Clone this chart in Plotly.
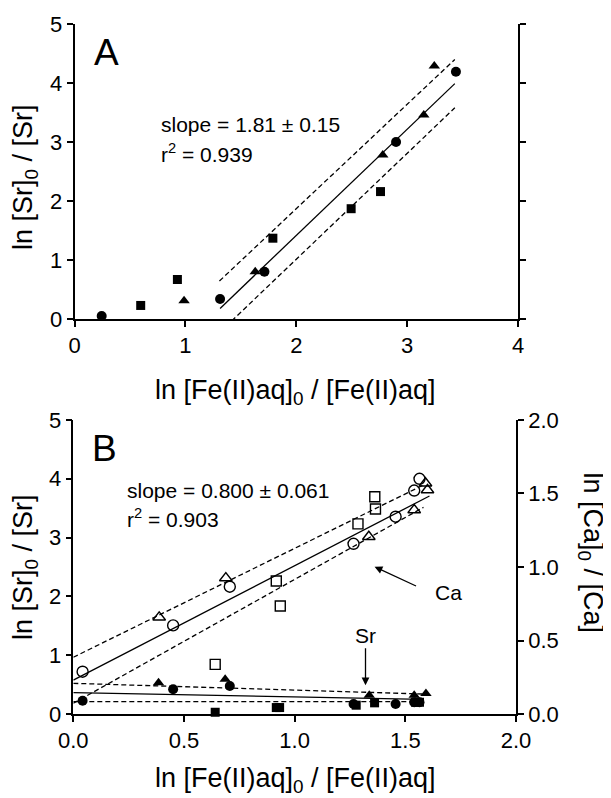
import plotly.graph_objects as go

FONT = "Liberation Sans, Arial, Helvetica, sans-serif"

# ---------------- Panel A data ----------------
a_circ_x = [0.245, 1.313, 1.713, 2.90, 3.44]
a_circ_y = [0.05, 0.34, 0.80, 3.00, 4.19]
a_sq_x = [0.597, 0.928, 1.789, 2.495, 2.76]
a_sq_y = [0.23, 0.67, 1.37, 1.87, 2.16]
a_tri_x = [0.988, 1.63, 2.78, 3.15, 3.245]
a_tri_y = [0.31, 0.80, 2.78, 3.46, 4.29]
a_fit_x = [1.313, 3.43]
a_fit_y = [0.18, 3.99]
a_up_x = [1.307, 3.43]
a_up_y = [0.644, 4.40]
a_lo_x = [1.313, 3.43]
a_lo_y = [-0.22, 3.58]

# ---------------- Panel B data ----------------
# Ca (open symbols, right axis)
b_ca_circ_x = [0.042, 0.451, 0.707, 1.266, 1.456, 1.540, 1.564]
b_ca_circ_y = [0.288, 0.603, 0.866, 1.158, 1.342, 1.520, 1.600]
b_ca_tri_x = [0.388, 0.689, 1.335, 1.540, 1.591, 1.600]
b_ca_tri_y = [0.658, 0.925, 1.206, 1.388, 1.570, 1.524]
b_ca_sq_x = [0.641, 0.917, 0.935, 1.286, 1.362, 1.365]
b_ca_sq_y = [0.338, 0.905, 0.735, 1.293, 1.478, 1.394]
b_ca_fit_x = [0.0, 1.609]
b_ca_fit_y = [0.231, 1.483]
b_ca_up_x = [0.0, 1.582]
b_ca_up_y = [0.386, 1.558]
b_ca_lo_x = [0.0, 1.582]
b_ca_lo_y = [0.073, 1.406]
# Sr (filled symbols, left axis)
b_sr_circ_x = [0.042, 0.451, 0.707, 1.266, 1.456, 1.540, 1.564]
b_sr_circ_y = [0.226, 0.42, 0.476, 0.17, 0.17, 0.20, 0.20]
b_sr_tri_x = [0.385, 0.686, 1.337, 1.540, 1.593]
b_sr_tri_y = [0.53, 0.59, 0.32, 0.32, 0.35]
b_sr_sq_x = [0.641, 0.917, 0.932, 1.278, 1.361, 1.546, 1.564]
b_sr_sq_y = [0.03, 0.11, 0.11, 0.15, 0.19, 0.20, 0.20]
b_sr_fit_x = [0.0, 1.582]
b_sr_fit_y = [0.363, 0.25]
b_sr_up_x = [0.0, 1.582]
b_sr_up_y = [0.522, 0.34]
b_sr_lo_x = [0.0, 1.582]
b_sr_lo_y = [0.21, 0.21]

fig = go.Figure()

def marker(sym, filled=True, size=10):
    if filled:
        return dict(symbol=sym, size=size, color="black", line=dict(width=0))
    return dict(symbol=sym + "-open", size=size + 1, color="black", line=dict(width=1.4, color="black"))

def pts(x, y, sym, xa, ya, filled=True, size=10):
    fig.add_trace(go.Scatter(x=x, y=y, mode="markers", marker=marker(sym, filled, size),
                             xaxis=xa, yaxis=ya, cliponaxis=False, showlegend=False))

def line(x, y, xa, ya, dash="solid"):
    fig.add_trace(go.Scatter(x=x, y=y, mode="lines", line=dict(color="black", width=1.3, dash=dash),
                             xaxis=xa, yaxis=ya, showlegend=False))

DASH = "5px,3px"

# Panel A
line(a_fit_x, a_fit_y, "x", "y")
line(a_up_x, a_up_y, "x", "y", DASH)
line(a_lo_x, a_lo_y, "x", "y", DASH)
pts(a_circ_x, a_circ_y, "circle", "x", "y")
pts(a_sq_x, a_sq_y, "square", "x", "y", size=9)
pts(a_tri_x, a_tri_y, "triangle-up", "x", "y")

# Panel B - Ca on right axis
line(b_ca_fit_x, b_ca_fit_y, "x2", "y3")
line(b_ca_up_x, b_ca_up_y, "x2", "y3", DASH)
line(b_ca_lo_x, b_ca_lo_y, "x2", "y3", DASH)
pts(b_ca_circ_x, b_ca_circ_y, "circle", "x2", "y3", filled=False)
pts(b_ca_tri_x, b_ca_tri_y, "triangle-up", "x2", "y3", filled=False)
pts(b_ca_sq_x, b_ca_sq_y, "square", "x2", "y3", filled=False, size=9)
# Panel B - Sr on left axis
line(b_sr_fit_x, b_sr_fit_y, "x2", "y2")
line(b_sr_up_x, b_sr_up_y, "x2", "y2", DASH)
line(b_sr_lo_x, b_sr_lo_y, "x2", "y2", DASH)
pts(b_sr_circ_x, b_sr_circ_y, "circle", "x2", "y2")
pts(b_sr_tri_x, b_sr_tri_y, "triangle-up", "x2", "y2")
pts(b_sr_sq_x, b_sr_sq_y, "square", "x2", "y2", size=9)

TICKF = dict(family=FONT, size=22, color="black")
common = dict(showgrid=False, zeroline=False, showline=True, linecolor="black", linewidth=1.5,
              ticks="outside", ticklen=6, tickwidth=1.5, tickcolor="black", tickfont=TICKF,
              automargin=False)

# page body has an 8px default margin, so the figure is 8px smaller than the window
fig.update_layout(
    width=603, height=790,
    margin=dict(l=0, r=0, t=0, b=0, autoexpand=False),
    paper_bgcolor="white", plot_bgcolor="white",
    font=dict(family=FONT, color="black"),
    xaxis=dict(domain=[0.1103, 0.8458], range=[0, 4], dtick=1, anchor="y", **common),
    yaxis=dict(domain=[0.6063, 0.9797], range=[0, 5], dtick=1, anchor="x", mirror="ticks", **common),
    xaxis2=dict(domain=[0.1083, 0.8425], range=[0, 2], dtick=0.5, tickformat=".1f", anchor="y2", **common),
    yaxis2=dict(domain=[0.1063, 0.4785], range=[0, 5], dtick=1, anchor="x2", **common),
    yaxis3=dict(range=[0, 2], dtick=0.5, tickformat=".1f", overlaying="y2", side="right",
                anchor="x2", **common),
)

ann = []
def txt(text, x, y, xref, yref, size=21, xanchor="center", angle=0):
    ann.append(dict(text=text, x=x, y=y, xref=xref, yref=yref, showarrow=False,
                    xanchor=xanchor, yanchor="middle", textangle=angle,
                    font=dict(family=FONT, size=size, color="black")))

txt("A", 0.29, 4.51, "x", "y", size=37)
txt("slope = 1.81 ± 0.15", 0.763, 3.29, "x", "y", xanchor="left")
txt("r<sup>2</sup> = 0.939", 0.763, 2.81, "x", "y", xanchor="left")
txt("B", 0.143, 4.52, "x2", "y2", size=37)
txt("slope = 0.800 ± 0.061", 0.2355, 3.80, "x2", "y2", xanchor="left")
txt("r<sup>2</sup> = 0.903", 0.2355, 3.33, "x2", "y2", xanchor="left")
txt("Ca", 1.624, 2.06, "x2", "y2", xanchor="left")
txt("Sr", 1.32, 1.34, "x2", "y2")

# axis titles
TS = 27
txt("ln [Sr]<sub>0</sub> / [Sr]", 0.0282, 0.786, "paper", "paper", size=TS, angle=-90)
txt("ln [Sr]<sub>0</sub> / [Sr]", 0.0282, 0.2924, "paper", "paper", size=TS, angle=-90)
txt("ln [Ca]<sub>0</sub> / [Ca]", 0.966, 0.3101, "paper", "paper", size=TS, angle=90)
txt("ln [Fe(II)aq]<sub>0</sub> / [Fe(II)aq]", 0.476, 0.5139, "paper", "paper", size=TS)
txt("ln [Fe(II)aq]<sub>0</sub> / [Fe(II)aq]", 0.476, 0.0228, "paper", "paper", size=TS)

# arrows
ann.append(dict(x=1.361, y=2.505, ax=1.555, ay=2.165, xref="x2", yref="y2", axref="x2", ayref="y2",
                text="", showarrow=True, arrowhead=2, arrowsize=1.2, arrowwidth=1.3, arrowcolor="black"))
ann.append(dict(x=1.32, y=0.49, ax=1.32, ay=1.145, xref="x2", yref="y2", axref="x2", ayref="y2",
                text="", showarrow=True, arrowhead=2, arrowsize=1.2, arrowwidth=1.3, arrowcolor="black"))

fig.update_layout(annotations=ann)
fig.write_html("out.html")
